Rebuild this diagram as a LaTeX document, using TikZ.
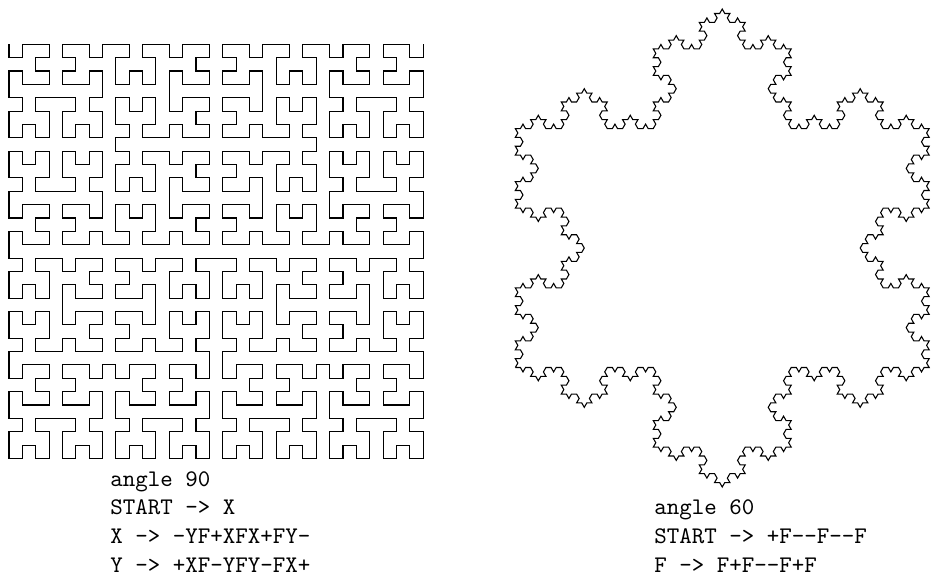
\documentclass[tikz,border=0pt]{standalone}
\usetikzlibrary{lindenmayersystems}
\pgfdeclarelindenmayersystem{Hilbert}{
  \rule{X -> -YF+XFX+FY-}
  \rule{Y -> +XF-YFY-FX+}
}
\pgfdeclarelindenmayersystem{Koch}{
  \rule{F -> F+F--F+F}
}
\tikzset{
  rulelabel/.style={anchor=base west, inner sep=0pt, font=\ttfamily},
  curve/.style={draw=black, line width=0.45pt, line join=miter}
}
\begin{document}
\begin{tikzpicture}[x=0.42pt, y=-0.42pt]
\useasboundingbox (0,0) rectangle (931,578);
% Hilbert curve
\begin{scope}[shift={(9,44.3)}]
\coordinate (hstart) at (0,0);
\draw[curve, lindenmayer system={Hilbert, axiom=X, order=5, step=5.611pt, angle=90}]
  (hstart) lindenmayer system;
\end{scope}
% Koch snowflake
\begin{scope}[shift={(515.3,367.5)}]
\coordinate (kstart) at (0,0);
\draw[curve, lindenmayer system={Koch, axiom=+F--F--F, order=4, step=2.146pt, angle=60}]
  (kstart) lindenmayer system;
\end{scope}
% Texts
\node[rulelabel] (l1) at (110,486.5) {angle 90};
\node[rulelabel] (l2) at (110,515) {START -> X};
\node[rulelabel] (l3) at (110,543.5) {X -> -YF+XFX+FY-};
\node[rulelabel] (l4) at (110,572) {Y -> +XF-YFY-FX+};
\node[rulelabel] (r1) at (654,515) {angle 60};
\node[rulelabel] (r2) at (654,543.5) {START -> +F--F--F};
\node[rulelabel] (r3) at (654,572) {F -> F+F--F+F};
\end{tikzpicture}
\end{document}
